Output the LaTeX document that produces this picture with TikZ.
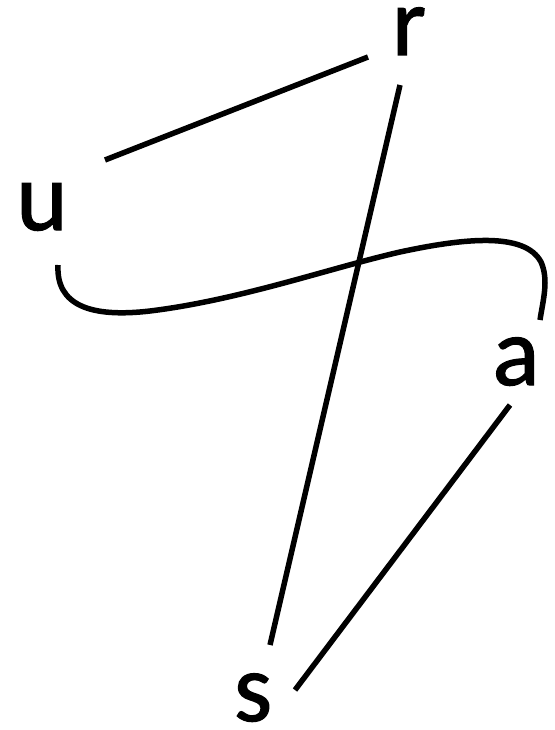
\documentclass[tikz,border=0pt]{standalone}
\usepackage{fontspec}
\setmainfont{Carlito}[FakeBold=1.2]
\begin{document}
\begin{tikzpicture}[x=1pt,y=-1pt,
  lbl/.style={font=\fontsize{98}{98}\selectfont, inner sep=0pt, anchor=base},
  edge/.style={line width=5.5pt, line cap=butt}]
\useasboundingbox (0,0) rectangle (554,730);
\node[lbl] (r) at (409,55) {r};
\node[lbl] (u) at (42,230) {u};
\node[lbl] (a) at (516,385) {a};
\node[lbl] (s) at (253,721) {s};
\coordinate (ur1) at (105,160);
\coordinate (ur2) at (368,57);
\coordinate (rs1) at (400,85);
\coordinate (rs2) at (270,645);
\coordinate (as1) at (510,405);
\coordinate (as2) at (295,690);
\coordinate (ua1) at (58,265);
\coordinate (ua2) at (540,320);
\draw[edge] (ur1) -- (ur2);
\draw[edge] (rs1) -- (rs2);
\draw[edge] (as1) -- (as2);
\draw[edge] (ua1) .. controls (56,305) and (90,318) .. (150,311)
  .. controls (240,300) and (330,268) .. (400,252)
  .. controls (465,238) and (525,232) .. (541,262)
  .. controls (549,280) and (543,300) .. (ua2);
\end{tikzpicture}
\end{document}
